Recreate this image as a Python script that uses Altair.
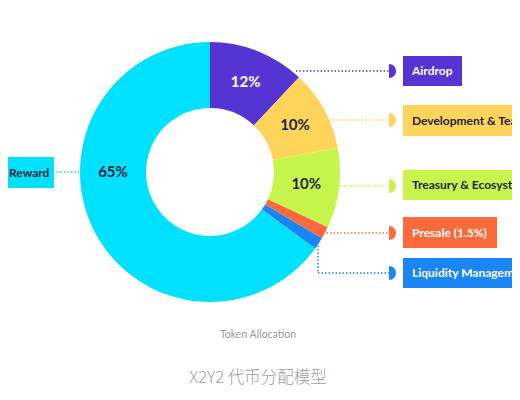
import math
import altair as alt
import pandas as pd

# ---- chart values ----
categories = ["Airdrop", "Development & Team", "Treasury & Ecosystem", "Presale",
              "Liquidity Management", "Reward"]
shares = [12, 10, 10, 1.5, 1.5, 65]
box_labels = ["Airdrop", "Development & Team", "Treasury & Ecosystem", "Presale (1.5%)",
              "Liquidity Management", "Reward"]
pct_labels = ["12%", "10%", "10%", "", "", "65%"]
subtitle = "Token Allocation"
title = "X2Y2 代币分配模型"

# ---- styles ----
colors = ["#5634d4", "#ffd45a", "#c8f54c", "#ff6a3d", "#1a86f5", "#00e1ff"]
dark = "#1c1f3b"
box_text_colors = ["#ffffff", dark, dark, "#ffffff", "#ffffff", dark]
pct_text_colors = ["#ffffff", dark, dark, dark, dark, "#16213e"]

W, H = 504, 384
CX, CY = 202, 164
R_OUT, R_IN = 130, 64

# ---- pie data ----
pie = pd.DataFrame({"cat": categories, "share": shares, "idx": range(len(categories))})

cum = 0
angles = []
for s in shares:
    angles.append((cum + s / 2) / sum(shares) * 2 * math.pi)
    cum += s
angles[-1] = 1.5 * math.pi  # Reward label sits on the left side
lab = pd.DataFrame({"pct": pct_labels, "ang": angles, "tc": pct_text_colors})
lab = lab[lab["pct"] != ""]

# ---- annotation layout (chart pixel coordinates) ----
box_x = [395, 395, 395, 395, 395, -8]
box_x2 = [454, 520, 520, 489, 520, 46]
box_y = [48, 97, 162, 209, 250, 149]
box_y2 = [78, 128, 192, 240, 280, 180]
text_x = [404, 404, 404, 404, 404, 1]

boxes = pd.DataFrame({
    "x": box_x, "x2": box_x2, "y": box_y, "y2": box_y2,
    "tx": text_x, "ty": [(a + b) / 2 for a, b in zip(box_y, box_y2)],
    "label": box_labels, "fill": colors, "tc": box_text_colors,
})

lines = pd.DataFrame({
    "x": [288, 322, 332, 315, 310, 310, 49],
    "x2": [381, 381, 381, 381, 310, 381, 71],
    "y": [63, 112, 178, 225, 234, 265, 164],
    "y2": [63, 112, 178, 225, 265, 265, 164],
    "c": [colors[0], colors[1], colors[2], colors[3], colors[4], colors[4], colors[5]],
})

markers = pd.DataFrame({
    "x": [381, 381, 381, 381, 381],
    "y": [63, 112, 178, 225, 265],
    "c": colors[:5],
})

texts = pd.DataFrame({
    "x": [250, 250], "y": [327, 370], "t": [subtitle, title],
})

arc = alt.Chart(pie).mark_arc(radius=R_OUT, radius2=R_IN).encode(
    theta=alt.Theta("share:Q", stack=True),
    order=alt.Order("idx:Q"),
    color=alt.Color("cat:N", scale=alt.Scale(domain=categories, range=colors), legend=None),
    x=alt.value(CX), y=alt.value(CY),
)

pct = alt.Chart(lab).mark_text(radius=(R_OUT + R_IN) / 2, fontSize=15, fontWeight="bold",
                                font="Lato").encode(
    theta=alt.Theta("ang:Q", scale=None, stack=False),
    text="pct:N",
    color=alt.Color("tc:N", scale=None),
    x=alt.value(CX), y=alt.value(CY),
)

rules = alt.Chart(lines).mark_rule(strokeDash=[1.5, 2], strokeWidth=1.5).encode(
    x=alt.X("x:Q", scale=None), x2="x2:Q",
    y=alt.Y("y:Q", scale=None), y2="y2:Q",
    color=alt.Color("c:N", scale=None),
)

semi = alt.Chart(markers).mark_point(shape="M0,-1 A1,1 0 0 1 0,1 Z", filled=True,
                                     size=196, opacity=1).encode(
    x=alt.X("x:Q", scale=None), y=alt.Y("y:Q", scale=None),
    color=alt.Color("c:N", scale=None),
)

rects = alt.Chart(boxes).mark_rect().encode(
    x=alt.X("x:Q", scale=None), x2="x2:Q",
    y=alt.Y("y:Q", scale=None), y2="y2:Q",
    color=alt.Color("fill:N", scale=None),
)

btext = alt.Chart(boxes).mark_text(align="left", baseline="middle", fontSize=12,
                                   fontWeight="bold", font="Lato").encode(
    x=alt.X("tx:Q", scale=None), y=alt.Y("ty:Q", scale=None),
    text="label:N", color=alt.Color("tc:N", scale=None),
)

sub = alt.Chart(texts.iloc[[0]]).mark_text(fontSize=10.5, color="#9a9a9a", font="Lato",
                                           baseline="middle").encode(
    x=alt.X("x:Q", scale=None), y=alt.Y("y:Q", scale=None), text="t:N",
)
ttl = alt.Chart(texts.iloc[[1]]).mark_text(fontSize=16.5, color="#a0a0a0",
                                           font="Noto Sans CJK SC", fontWeight=300,
                                           baseline="middle").encode(
    x=alt.X("x:Q", scale=None), y=alt.Y("y:Q", scale=None), text="t:N",
)

chart = alt.layer(arc, rules, semi, rects, btext, pct, sub, ttl).properties(
    width=W, height=H, autosize=alt.AutoSizeParams(type="none"), padding=0,
    background="#ffffff",
).configure_view(stroke=None)

chart.save("out.html", embed_options={"renderer": "svg", "actions": False})
